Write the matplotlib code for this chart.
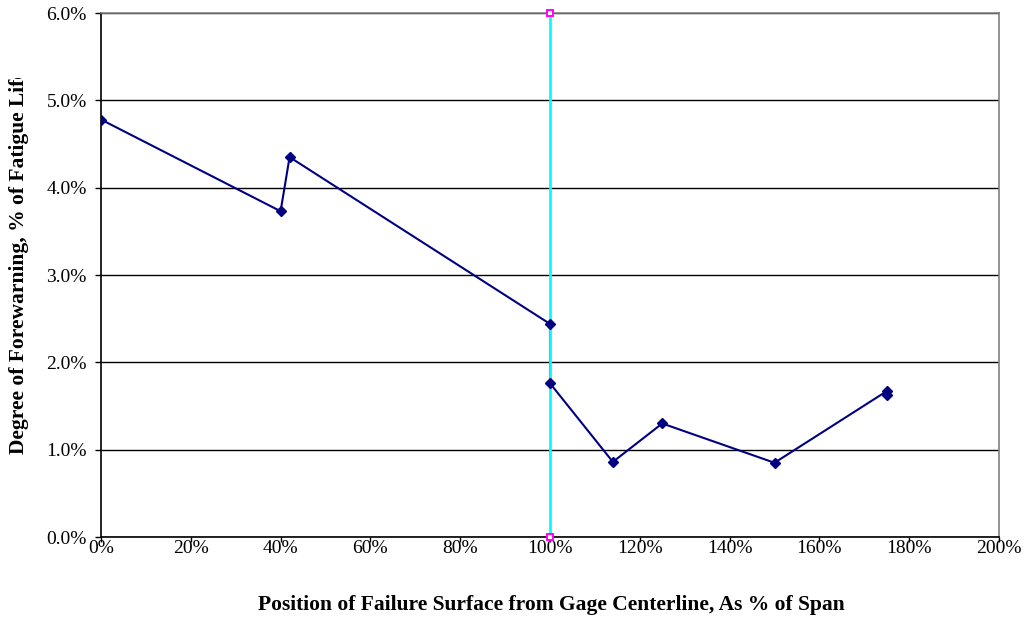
import matplotlib
matplotlib.use("Agg")
import matplotlib.pyplot as plt
from matplotlib.ticker import FuncFormatter
from matplotlib.transforms import Bbox

# Failure position (% of span) vs. degree of forewarning (% of fatigue life)
position_pct = [0, 40, 42, 100, 100, 114, 125, 150, 175, 175]
forewarning_pct = [4.78, 3.73, 4.35, 2.44, 1.76, 0.86, 1.30, 0.85, 1.67, 1.63]

# Span reference line at 100 %
span_x = [100, 100]
span_y = [0.0, 6.0]

x_ticks = list(range(0, 201, 20))
y_ticks = [0, 1, 2, 3, 4, 5, 6]

plt.rcParams["font.family"] = ["Liberation Serif", "DejaVu Serif"]

fig = plt.figure(figsize=(10.31, 6.20), dpi=100)
ax = fig.add_axes([101 / 1031, 1 - 537 / 620, 898 / 1031, 524 / 620])

for y in y_ticks:
    ax.axhline(y, color="black", lw=1.0, zorder=1)

# series line below the span line, markers above it
ax.plot(position_pct, forewarning_pct, color="#000080", lw=1.5, zorder=2)
ax.plot(span_x, span_y, color="#00FFFF", lw=2.0, zorder=3,
        marker="s", ms=4.5, mfc="white", mec="#FF00FF", mew=1.4, clip_on=False)
ax.plot(position_pct, forewarning_pct, ls="none", zorder=4,
        marker="D", ms=5.5, mfc="#000080", mec="#000080")

ax.set_xlim(0, 200)
ax.set_ylim(0, 6)
ax.set_xticks(x_ticks)
ax.set_yticks(y_ticks)
ax.xaxis.set_major_formatter(FuncFormatter(lambda v, p: f"{v:.0f}%"))
ax.yaxis.set_major_formatter(FuncFormatter(lambda v, p: f"{v:.1f}%"))
ax.tick_params(axis="both", direction="out", width=1.0,
               labelsize=14, colors="black")
ax.tick_params(axis="x", length=3.5, pad=-1)
ax.tick_params(axis="y", length=4.3, pad=6)

for side in ("left", "bottom"):
    ax.spines[side].set_color("black")
    ax.spines[side].set_linewidth(1.2)
for side in ("top", "right"):
    ax.spines[side].set_color("#808080")
    ax.spines[side].set_linewidth(1.2)

fig.text(551 / 1031, 1 - 605 / 620,
         "Position of Failure Surface from Gage Centerline, As % of Span",
         ha="center", va="center", fontsize=15.5, fontweight="bold")

ylab = fig.text(19 / 1031, 1 - 262 / 620,
                "Degree of Forewarning, % of Fatigue Life",
                rotation=90, ha="center", va="center",
                fontsize=15.5, fontweight="bold")
ylab.set_clip_box(Bbox.from_extents(0, 0, 60, 620 - 78))
ylab.set_clip_on(True)

fig.savefig("out.png", dpi=100)
